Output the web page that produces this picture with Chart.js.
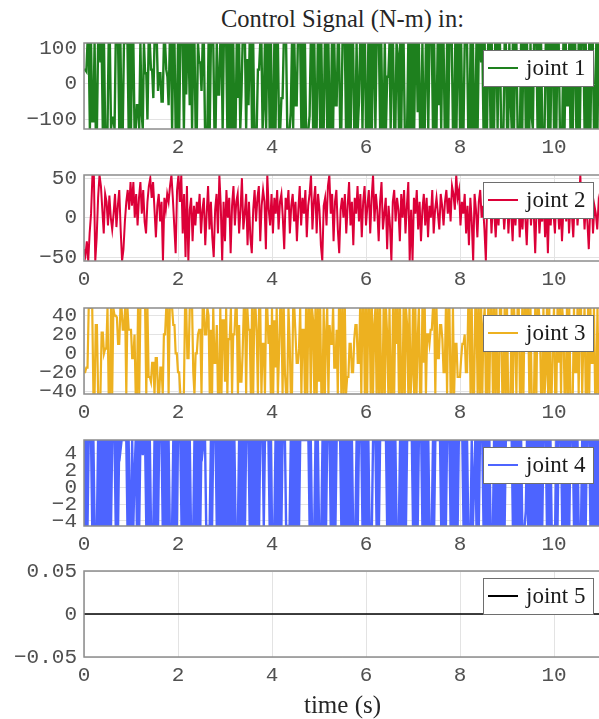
<!DOCTYPE html>
<html>
<head>
<meta charset="utf-8">
<script src="https://cdn.jsdelivr.net/npm/chart.js@4.4.1/dist/chart.umd.min.js"></script>
<style>
  html, body { margin: 0; padding: 0; background: #fff; overflow: hidden; width: 599px; height: 719px; }
  canvas { position: absolute; left: 0; }
  .txt { position: absolute; left: 84px; width: 517px; text-align: center; font-family: "Liberation Serif", serif; color: #262626; white-space: nowrap; }
</style>
</head>
<body>
<div class="txt" id="title" style="top:5px; font-size:24.5px">Control Signal (N-m) in:</div>
<canvas id="c1" width="602" height="148"></canvas>
<canvas id="c2" width="602" height="148"></canvas>
<canvas id="c3" width="602" height="148"></canvas>
<canvas id="c4" width="602" height="148"></canvas>
<canvas id="c5" width="602" height="148"></canvas>
<div class="txt" id="xlabel" style="top:691px; font-size:25px">time (s)</div>
<script>
// sample steps (s)
const dt1 = 0.025, dt2 = 0.03, dt3 = 0.025, dt4 = 0.025;

const xTicks = [0, 2, 4, 6, 8, 10];

// joint 1 torque, saturating (one line per second)
const joint1 = [
  40, 40, 35, 115, 115, -127, 115, -105, -105, 115, -127, -127, 115, 115, 60, 115, -127, 115, -127, -127, -127, 115, 115, -127, -95, -95, -127, 115, 115, 115, -127, 115, -127, -127, 115, 115, 115, 115, -127, 115,
  -127, 115, 115, -127, -127, -60, -60, -127, 115, -80, -127, 115, 30, 30, -100, 115, 115, 40, 40, -40, 115, 115, 115, -20, 30, 30, -50, -50, 115, 115, 40, 20, -60, 115, 115, -127, 115, 115, -127, -127,
  115, -127, 115, 115, 115, -127, 115, -30, 115, 115, -60, 115, -127, 115, 115, -127, -127, 115, 60, 60, -20, 115, 115, -127, -127, -127, 115, -127, 115, 115, 115, -127, -127, 115, -30, -30, 115, 115, -127, 115,
  115, 115, -127, 115, -127, 115, -127, 115, -127, -127, 115, -40, 115, -127, -30, 115, 115, 115, -127, 70, -60, 115, 115, -127, 115, -127, -127, -127, 40, 40, 115, 115, -127, -50, 115, -127, 115, 115, -127, 115,
  -127, -127, 115, -127, 115, 115, -127, -127, -40, -40, 115, 115, 115, -127, -127, -127, -80, 115, -127, 115, -60, -60, 115, 115, 115, -127, 115, -127, 115, -127, -127, -127, -90, 115, 115, -127, 115, -127, -127, 115,
  115, -127, 115, -127, -127, 115, 115, -127, 115, -127, -127, 115, -127, 115, -60, -60, 115, 115, -127, -127, 115, 115, 115, -127, 115, -127, 115, -127, 115, 115, -127, -127, 115, -127, -50, 115, 115, -127, 115, 115,
  -127, -127, 115, -127, 115, -127, 115, 115, -127, 115, 115, 115, -127, 115, -127, -127, 115, -127, 20, 20, 115, -127, 115, 115, -127, -127, 115, 80, -127, 115, -127, 115, 115, -127, -127, -127, 115, -127, 115, -127,
  115, -127, 115, 115, -80, 115, -127, -127, 115, -127, -127, 115, 115, -127, 115, 115, 115, -127, 115, -127, -127, 115, -60, 115, -127, 115, 115, -127, -127, 115, -127, 115, 115, 115, -127, -127, 115, -127, 115, 115,
  -127, 115, -127, -127, 115, 115, 115, -127, -127, 115, -127, 115, -127, -127, 115, -127, 115, 115, 60, 115, -127, 115, -127, -127, 115, 115, -127, 115, -127, -127, 115, 115, -127, 115, 115, -127, -127, -127, 115, 115,
  -127, -127, 115, -40, -127, 115, -127, 115, 115, -127, -127, -127, 115, -127, 115, 115, -127, 115, -127, -127, 115, -90, -127, 115, 115, 115, -127, 115, -127, 115, -127, -127, -127, 115, 115, -127, 115, -127, 115, 115,
  -127, 115, -127, 115, 115, -127, -127, -127, 115, -127, 115, -60, -60, 115, -127, 115, -127, 115, 115, -127, -127, 115, -127, 115, 115, 115, -127, 115, -127, -127, 115, -127, 115, 115, -127, -127, 115, -127, 115, 115,
  -127
];

// joint 2 torque
const joint2 = [
  -40, -48, -30, -55, -20, 5, 54, 54, -55, -25, 25, 54, 40, 10, -20, 30, 20, -10, 28, 0, -15, 5, 30, -12, 15, 35, -15, -55, -40, -5, 20, 35, 10,
  45, 15, 45, 0, 30, -10, 25, 45, 5, 35, -5, -20, 20, 40, 50, 25, 45, 10, -25, 15, 30, -5, 20, -55, 25, 10, 30, 20, 40, 54, 25, -10, -45,
  35, 54, 20, 54, -20, 30, -50, 40, -55, 10, 25, -30, 15, -10, 20, 5, 30, -20, 10, 25, -35, 5, 40, -15, 20, -25, -50, 10, 30, -20, 54, 15, -55,
  20, -30, 35, 0, 25, -45, 15, 40, -10, 20, 30, -20, 10, 50, -15, 5, 30, -35, 20, -25, -45, 10, 35, -5, 25, 40, -30, 15, 35, 20, -40, 54, 10,
  -10, 30, -20, 25, 5, 35, -15, 20, 30, 0, -40, 25, 10, 35, -20, 15, 30, -5, 20, -30, 10, 40, -10, 25, 5, 35, -25, 15, 30, 54, -15, 20, 40,
  -20, 30, 10, -35, -55, 15, 25, -10, 40, 54, 5, 30, -30, 20, 35, -15, -45, 10, 25, 0, 30, -20, 15, 45, -10, 20, -35, 25, 5, 40, -5, 30, -25,
  20, 40, -10, 15, 35, -20, 25, 54, -5, 30, 10, -30, 20, 45, -15, 5, 25, -40, 15, -10, -55, 20, 35, -5, 25, 10, -30, 30, 0, 35, -20, 15, 45,
  -55, 10, -55, 25, 5, 35, -15, 20, -30, 10, 30, -10, 25, -25, 15, 0, 35, -20, 10, 25, 5, -15, 30, 15, -10, 20, 35, 5, 25, -5, 40, 30, 10,
  54, 25, 35, -10, 20, 5, 30, -20, 15, -35, 25, -5, -55, 30, 10, -25, 20, 35, 0, 15, -15, -55, 25, 10, 30, -20, 20, 5, -25, 15, -10, 25, 0,
  20, -15, 10, 30, -20, 15, 5, -30, 25, -10, 20, 35, -25, 10, -15, 25, 0, -35, 15, 30, -10, 20, 5, -45, 15, 25, -20, 10, -5, 30, -25, 15, -45,
  20, -10, 25, 5, -20, 30, 15, -15, 20, -30, 10, 25, -5, 35, -20, 15, 5, -25, 20, 30, -10, 15, 54, 0, 25, -15, 20, -5, -40, 10, 30, -20, 15, 5, -15, 20, 10
];

// joint 3 torque (one line per second)
const joint3 = [
  -20, -20, -15, -15, 48, 48, 48, 48, -43, -43, 30, 30, -43, -43, -43, 22, 22, 0, 5, 5, 48, -43, -43, 48, -43, 48, 40, 40, 38, 10, 10, 48, 48, 25, 25, 48, -43, 48, 25, 25,
  25, -5, -5, 20, -43, -43, 48, -43, 48, 48, 48, 48, 48, -43, 48, -25, -25, -30, -10, -10, -43, -5, -5, -43, -43, -15, -15, -43, 20, 20, 48, 48, -43, 48, 48, 48, 30, 30, 0, 0,
  -20, -20, -43, -43, -43, -43, 48, 48, -5, -5, 48, 48, 48, -20, -43, 0, 0, 20, 25, 25, -43, 48, 48, 20, 20, 48, 40, -43, 25, -43, 48, -10, -10, 30, -43, -43, 48, -43, 35, 35,
  -30, 48, -43, 15, 15, 48, -43, 20, 20, 48, 48, -43, 30, -30, -30, 0, 48, 48, -43, 48, 25, 25, -43, 48, -43, 48, 48, 20, -43, 48, 48, -43, 10, 10, -43, 48, 48, 10, 30, -43,
  48, -43, 35, -15, 48, -43, 0, 48, 48, -43, 48, -20, -43, -43, 48, 15, -43, -43, 48, 48, 20, -10, -10, 5, 48, -43, 25, 25, -43, 48, -43, 48, 48, -43, 48, 35, -43, 48, -43, 48,
  -30, 48, -43, -43, 48, -43, 20, 48, -43, 30, 10, 10, 48, -15, -15, 25, -43, 48, 48, -43, 48, -43, 48, -43, -25, -25, 10, 10, -20, -20, 15, 30, 30, -10, -10, 48, -43, 48, 48, -43,
  48, -43, 48, 48, -43, 48, -43, 30, 48, -43, 48, -43, 48, -43, -43, 48, -43, 48, 20, -43, 48, -43, -43, 48, -43, 48, 10, 48, -43, 48, -43, -43, 48, -43, 48, 30, -43, 48, -43, -20,
  48, -43, 48, -43, 15, 48, -43, -43, 48, -10, 48, -43, 20, 20, 10, 25, 25, 48, 48, -43, 48, -5, -5, 30, 30, 15, -20, -20, 48, -43, 48, 48, -43, -43, 48, -43, 10, 10, -25, -25,
  -25, -5, 10, 10, 20, -20, -20, 48, 48, -43, 48, -43, -43, 48, 48, -43, 48, -43, 48, -43, 30, 48, -43, -43, 48, -43, 48, 48, -43, 48, -43, 48, -43, -43, 48, 48, -43, -43, 48, -43,
  48, -43, -43, -43, 48, -43, 48, 20, -43, 48, 48, -43, -43, 48, -43, 48, 48, 10, 48, -43, 48, -43, -43, -43, 48, -43, 48, 48, 30, -43, -43, 48, -43, -20, 48, -43, 48, -43, -43, 15,
  48, -43, -43, 48, -10, 48, -43, 48, 30, -43, -43, 48, -43, 48, -43, -43, -43, 48, -20, -20, 48, -43, 48, 48, -43, 15, 48, -43, -43, 48, -43, 48, -10, -10, 48, -43, -43, 48, -43, 20,
  20
];

// joint 4 torque, bang-bang (one line per second)
const joint4 = [
  5.6, -4.6, 5.6, -4.6, 5.6, 5.6, 5.6, -4.6, 5.6, -4.6, -4.6, -4.6, 5.6, -4.6, 5.6, -4.6, 5.6, -4.6, 5.6, -4.6, 5.6, -4.6, 5.6, -4.6, 5.6, 5.6, 5.6, -4.6, 5.6, -4.6, 5.6, 4.3, 5.6, 5.6, 5.6, 5.6, 5.6, -4.6, 5.6, -4.6,
  -4.6, 5.6, -4.6, 1.5, 5.6, -4.6, 5.6, -4.6, 5.6, 5.6, 3.8, 5.6, 5.6, -4.6, 5.6, -4.6, 5.6, -4.6, -4.6, -4.6, 5.6, -4.6, 5.6, -4.6, 5.6, 5.6, 5.6, -4.6, 5.6, -4.6, 5.6, -4.6, 5.6, -4.6, -4.6, -4.6, 5.6, -4.6, 5.6, -4.6,
  5.6, 5.6, 5.6, -4.6, 5.6, -4.6, 5.6, -4.6, 5.6, -4.6, 5.6, -4.6, -4.6, -4.6, 5.6, -4.6, 5.6, -4.6, 5.6, -4.6, 5.6, 4.3, 5.6, 5.6, -4.6, -4.6, -4.6, -4.6, 5.6, -4.6, 5.6, 5.6, 5.6, -4.6, 5.6, -4.6, 5.6, -4.6, 5.6, -4.6,
  5.6, -4.6, 5.6, -4.6, 5.6, -4.6, 5.6, -4.6, 5.6, -4.6, -4.6, -4.6, 5.6, -4.6, 5.6, -4.6, 5.6, -4.6, 5.6, 5.6, 5.6, -4.6, 5.6, -4.6, 5.6, -4.6, 5.6, -4.6, 5.6, -4.6, 5.6, 5.6, 5.6, -4.6, 5.6, 5.6, 5.6, 5.6, -4.6, 5.6,
  -4.6, -4.6, -4.6, 5.6, -4.6, 5.6, -4.6, 5.6, -4.6, 5.6, 5.6, 5.6, -4.6, -4.6, -4.6, -4.6, 5.6, -4.6, 5.6, -4.6, 5.6, -4.6, 5.6, -4.6, 5.6, 5.6, 5.6, 5.6, 5.6, 5.6, 5.6, 5.6, -4.6, 5.6, -4.6, -4.6, -4.6, 5.6, -4.6, 5.6,
  -4.6, -4.6, -4.6, 5.6, -4.6, 5.6, -4.6, 5.6, 5.6, 5.6, -4.6, 5.6, -4.6, 5.6, -4.6, 5.6, 5.6, 5.6, 5.6, -4.6, 5.6, -4.6, 5.6, -4.6, 5.6, -4.6, 5.6, -4.6, 5.6, -4.6, -4.6, -4.6, 5.6, -4.6, 5.6, 5.6, 5.6, -4.6, 5.6, -4.6,
  5.6, -4.6, 5.6, -4.6, -4.6, -4.6, 5.6, 5.6, 5.6, -4.6, 5.6, -4.6, 5.6, 5.6, 5.6, 5.6, 5.6, 5.6, -4.6, 5.6, -4.6, 5.6, -4.6, 5.6, -4.6, 5.6, -4.6, -4.6, -4.6, 5.6, -4.6, 5.6, -4.6, 5.6, -4.6, 5.6, 5.6, 5.6, 5.6, 5.6,
  -4.6, 5.6, -4.6, 5.6, -4.6, 5.6, 5.6, 5.6, -4.6, 5.6, -4.6, 5.6, -4.6, 5.6, -4.6, -4.6, -4.6, 5.6, -4.6, 5.6, 5.6, 5.6, 5.6, 5.6, -4.6, 5.6, -4.6, 5.6, -4.6, 5.6, 5.6, 5.6, -4.6, 5.6, -4.6, 5.6, -4.6, 5.6, -4.6, 5.6,
  5.6, 5.6, 5.6, -4.6, 5.6, -4.6, 5.6, -4.6, -4.6, -4.6, 5.6, -4.6, 0.5, 5.6, -4.6, 5.6, -4.6, 5.6, 5.6, 5.6, -4.6, 5.6, -4.6, 5.6, -4.6, 5.6, -4.6, -4.6, -4.6, 5.6, -4.6, 5.6, -4.6, 5.6, -4.6, 5.6, -4.6, 5.6, -4.6, 5.6,
  5.6, 5.6, 5.6, 5.6, 5.6, -4.6, 5.6, -4.6, 5.6, -4.6, 5.6, -4.6, 5.6, -4.6, -4.6, -4.6, -2.8, 5.6, -4.6, 5.6, -4.6, 5.6, -4.6, 5.6, -4.6, 5.6, -4.6, 5.6, -4.6, 5.6, -4.6, 5.6, 5.6, 5.6, -4.6, 5.6, -4.6, 5.6, -4.6, -4.6,
  -4.6, -4.6, 5.6, -4.6, 5.6, 5.6, 5.6, -4.6, 5.6, -4.6, 5.6, -4.6, 5.6, -4.6, 5.6, 5.6, 5.6, -4.6, 5.6, -4.6, 5.6, -4.6, -4.6, -4.6, 5.6, -4.6, 5.6, -4.6, 5.6, 5.6, 5.6, -4.6, 5.6, -4.6, 5.6, -4.6, 5.6, -4.6, 5.6, -4.6,
  5.6
];

// joint 5 stays at zero
const joint5Time = [0, 11];
const joint5 = [0, 0];

const panels = [
  { id: 'c1', top: 43,  label: 'joint 1', color: '#1e801e', values: joint1, dt: dt1, yMin: -127, yMax: 115, yStep: 100, lw: 2.4, hideZero: true },
  { id: 'c2', top: 175, label: 'joint 2', color: '#dc0038', values: joint2, dt: dt2, yMin: -55, yMax: 54, yStep: 50, lw: 2 },
  { id: 'c3', top: 308, label: 'joint 3', color: '#edb120', values: joint3, dt: dt3, yMin: -43, yMax: 48, yStep: 20, lw: 2.2 },
  { id: 'c4', top: 440, label: 'joint 4', color: '#4d64ff', values: joint4, dt: dt4, yMin: -4.6, yMax: 5.6, yStep: 2, lw: 2.4 },
  { id: 'c5', top: 571, label: 'joint 5', color: '#000000', values: joint5, time: joint5Time, yMin: -0.05, yMax: 0.05, yStep: 0.05, lw: 1.5 }
];

const PAD_TOP = 20;
const tickFont = { family: '"Liberation Mono", "Courier New", monospace', size: 21 };

function fmt(v) {
  return String(parseFloat(Number(v).toFixed(4))).replace('-', '\u2212');
}

// axes box + legend drawn on top of the data, MATLAB style
const framePlugin = {
  id: 'frame',
  afterDatasetsDraw(chart) {
    const { ctx, chartArea: a } = chart;
    const ds = chart.data.datasets[0];
    ctx.save();
    ctx.strokeStyle = '#8c8c8c';
    ctx.lineWidth = 1.5;
    ctx.strokeRect(a.left, a.top, a.right - a.left, a.bottom - a.top);

    const w = 110, h = 36;
    const bx = Math.round(a.right - 8 - w), by = Math.round(a.top + 7);
    ctx.fillStyle = '#fff';
    ctx.fillRect(bx, by, w, h);
    ctx.strokeStyle = '#6e6e6e';
    ctx.lineWidth = 1;
    ctx.strokeRect(bx + 0.5, by + 0.5, w, h);
    ctx.strokeStyle = ds.borderColor;
    ctx.lineWidth = 2;
    ctx.beginPath();
    ctx.moveTo(bx + 5, by + h / 2);
    ctx.lineTo(bx + 35, by + h / 2);
    ctx.stroke();
    ctx.fillStyle = '#1a1a1a';
    ctx.font = '23px "Liberation Serif", serif';
    ctx.textBaseline = 'middle';
    ctx.fillText(ds.label, bx + 43, by + h / 2 + 1);
    ctx.restore();
  }
};

panels.forEach(p => {
  const canvas = document.getElementById(p.id);
  canvas.style.top = (p.top - PAD_TOP) + 'px';
  const points = p.values.map((v, i) => ({ x: p.time ? p.time[i] : i * p.dt, y: v }));

  new Chart(canvas.getContext('2d'), {
    type: 'line',
    data: {
      datasets: [{
        label: p.label,
        data: points,
        borderColor: p.color,
        borderWidth: p.lw,
        pointRadius: 0,
        tension: 0,
        clip: 0
      }]
    },
    options: {
      responsive: false,
      animation: false,
      events: [],
      layout: { padding: { top: PAD_TOP, left: 0, right: 1, bottom: 0 } },
      plugins: { legend: { display: false }, tooltip: { enabled: false } },
      scales: {
        x: {
          type: 'linear',
          min: 0,
          max: 11,
          afterFit: s => { s.height = 42; },
          afterBuildTicks: s => { s.ticks = xTicks.map(v => ({ value: v })); },
          border: { display: false },
          grid: { color: '#e3e3e3', drawTicks: false },
          ticks: {
            padding: 6,
            maxRotation: 0,
            autoSkip: false,
            font: tickFont,
            color: '#505050',
            callback: v => (p.hideZero && v === 0) ? '' : fmt(v)
          }
        },
        y: {
          min: p.yMin,
          max: p.yMax,
          afterFit: s => { s.width = 84; },
          border: { display: false },
          grid: { color: '#e3e3e3', drawTicks: false },
          ticks: {
            stepSize: p.yStep,
            includeBounds: false,
            autoSkip: false,
            padding: 7,
            font: tickFont,
            color: '#505050',
            callback: v => fmt(v)
          }
        }
      }
    },
    plugins: [framePlugin]
  });
});
</script>
</body>
</html>
